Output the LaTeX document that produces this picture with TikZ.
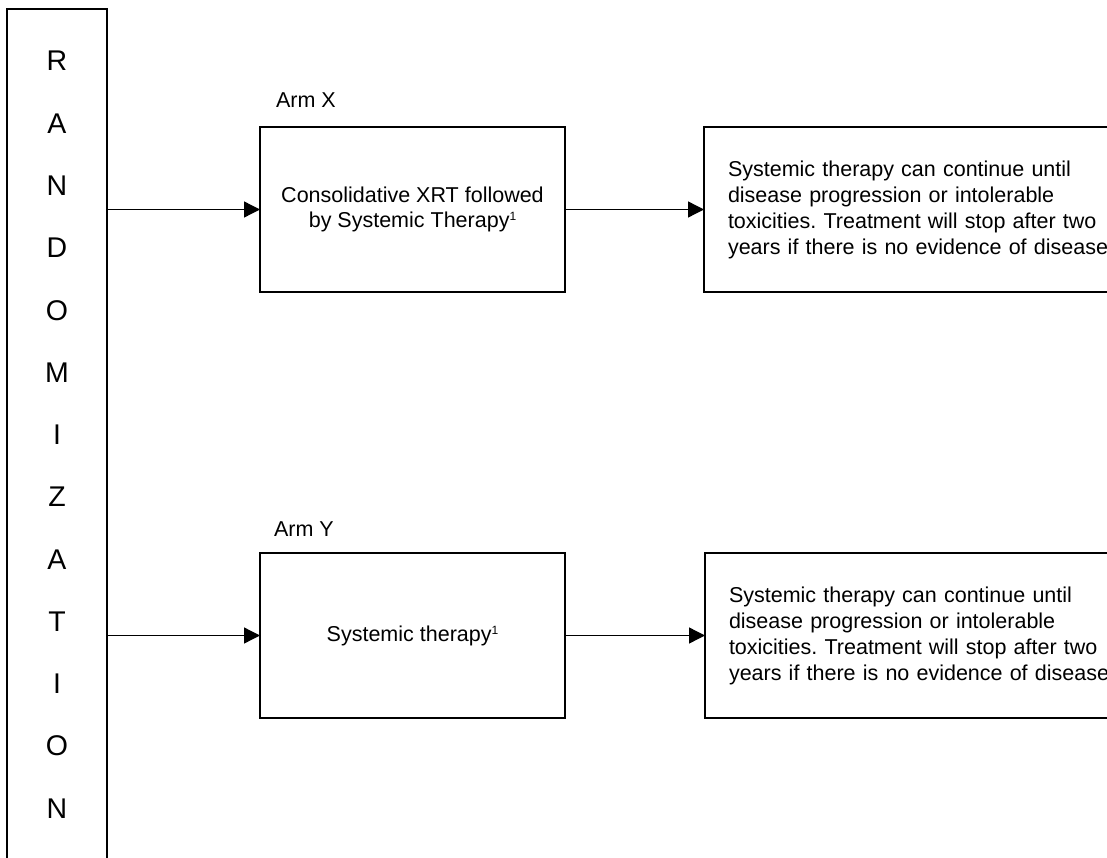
\documentclass[tikz,border=0pt]{standalone}
\usepackage{fontspec}
\setmainfont{Liberation Sans}
\usetikzlibrary{arrows.meta,positioning}
\frenchspacing
\newcommand{\fnmark}{\raisebox{7pt}{\fontsize{12}{12}\selectfont 1}}

\tikzset{
    block/.style={draw, line width=1.3pt, minimum width=305pt, minimum height=165pt, align=center, font=\fontsize{21.5}{25}\selectfont},
    note/.style={draw, line width=1.3pt, minimum height=165pt, inner xsep=24pt, text width=390pt, align=left, font=\fontsize{21.5}{26}\selectfont},
    armlabel/.style={anchor=base west, font=\fontsize{21.5}{25}\selectfont},
    letter/.style={anchor=base, font=\fontsize{28.5}{34}\selectfont},
    arr/.style={line width=1.3pt, -{Triangle[length=16pt,width=16pt]}}
}

\begin{document}
\begin{tikzpicture}[x=1pt, y=-1pt, inner sep=0pt, outer sep=0pt]
    \useasboundingbox (0,0) rectangle (1107,858);
    % randomization column
    \node[draw, line width=1.3pt, anchor=north west, minimum width=100pt, minimum height=880pt] (rand) at (7,9) {};
    \foreach \l [count=\i from 0] in {R,A,N,D,O,M,I,Z,A,T,I,O,N}
        \node[letter] (rand\i) at (57, {71+62.25*\i}) {\l};

    % arm X
    \node[block, anchor=north west] (boxX) at (260,127)
    {Consolidative XRT followed\\ by Systemic Therapy\fnmark};
    \node[armlabel] (armX) at (276,108) {Arm X};
    \node[note, right=139pt of boxX] (noteX)
    {Systemic therapy can continue until\\ disease progression or intolerable\\ toxicities. Treatment will stop after two\\ years if there is no evidence of disease};

    % arm Y
    \node[block, below=261pt of boxX] (boxY) {Systemic therapy\fnmark};
    \node[armlabel] (armY) at (274,536) {Arm Y};
    \node[note, right=140pt of boxY] (noteY)
    {Systemic therapy can continue until\\ disease progression or intolerable\\ toxicities. Treatment will stop after two\\ years if there is no evidence of disease};

    % arrows
    \draw[arr] (rand.east |- boxX) -- (boxX);
    \draw[arr] (boxX) -- (noteX);
    \draw[arr] (rand.east |- boxY) -- (boxY);
    \draw[arr] (boxY) -- (noteY);
\end{tikzpicture}
\end{document}
